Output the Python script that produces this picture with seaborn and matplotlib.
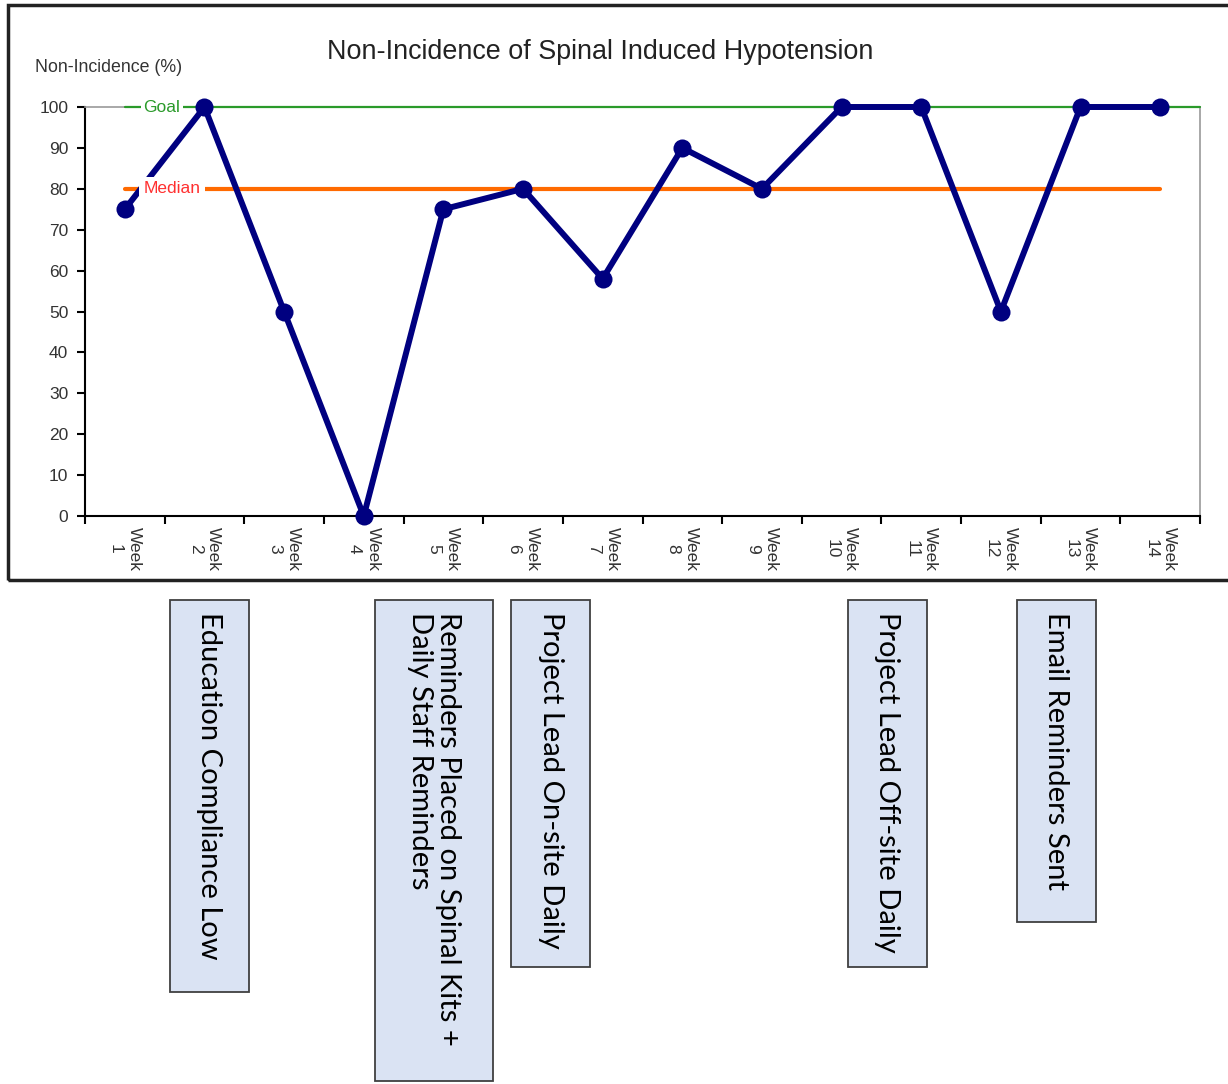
import seaborn as sns
import pandas as pd
import matplotlib.pyplot as plt
import matplotlib.patches as patches
import numpy as np

weeks = list(range(1, 15))
week_labels = [f"Week\n{w}" for w in weeks]
non_incidence = [75, 100, 50, 0, 75, 80, 58, 90, 80, 100, 100, 50, 100, 100]
goal = 100
median = 80

notes = [
    "Education Compliance Low",
    "Reminders Placed on Spinal Kits +\nDaily Staff Reminders",
    "Project Lead On-site Daily",
    "Project Lead Off-site Daily",
    "Email Reminders Sent",
]
# box extents in pixels: left, right, bottom
note_boxes = [(170, 249, 992), (375, 493, 1081), (511, 590, 967),
              (848, 927, 967), (1017, 1096, 922)]

sns.set_theme(style="white")
plt.rcParams['font.family'] = ['Liberation Sans', 'DejaVu Sans']

W, H = 1228, 1084
fig = plt.figure(figsize=(W / 100, H / 100), dpi=100)
ax = fig.add_axes([85 / W, 1 - 516 / H, (1200 - 85) / W, (516 - 107) / H])

df = pd.DataFrame({"week": weeks, "value": non_incidence})

# goal and median reference lines
ax.plot([1, 14.5], [goal, goal], color="#2a9a2a", lw=1.6, zorder=2.6, clip_on=False)
ax.plot([1, 14], [median, median], color="#ff6a00", lw=3, zorder=2)

sns.lineplot(data=df, x="week", y="value", ax=ax, color="#000080", lw=4.3,
             marker="o", markersize=13, markeredgewidth=0, zorder=3, clip_on=False)

ax.text(1.235, goal, "Goal", color="#2a9a2a", fontsize=12.5, va="center", ha="left",
        zorder=4, bbox=dict(facecolor="white", edgecolor="none", pad=2))
ax.text(1.235, median, "Median", color="#ff3030", fontsize=12.5, va="center", ha="left",
        zorder=4, bbox=dict(facecolor="white", edgecolor="none", pad=3))

ax.set_xlim(0.5, 14.5)
ax.set_ylim(0, 100)
ax.set_yticks(np.arange(0, 101, 10))
ax.set_xticks(np.arange(0.5, 15, 1))
ax.set_xticklabels([])
ax.set_xticks(weeks, minor=True)
ax.set_xticklabels(week_labels, minor=True, rotation=270, fontsize=12.5,
                   color="#333333", ha="center", va="top", linespacing=1.3)
ax.tick_params(axis="x", which="major", direction="out", length=6, width=1.5,
               color="black", bottom=True)
ax.tick_params(axis="x", which="minor", length=0, pad=8)
ax.tick_params(axis="y", direction="out", length=6, width=1.5, color="black",
               left=True, labelsize=12.5, labelcolor="#333333", pad=6)
ax.set_xlabel("")
ax.set_ylabel("")
for s in ["left", "bottom"]:
    ax.spines[s].set_color("black")
    ax.spines[s].set_linewidth(1.5)
for s in ["top", "right"]:
    ax.spines[s].set_color("#999999")
    ax.spines[s].set_linewidth(1.2)

fig.text(600 / W, 1 - 52 / H, "Non-Incidence of Spinal Induced Hypotension",
         ha="center", va="center", fontsize=19.4, color="#222222")
fig.text(35 / W, 1 - 68 / H, "Non-Incidence (%)", ha="left", va="center",
         fontsize=12.8, color="#333333")

# outer frame around the chart
fig.patches.append(patches.Rectangle((8 / W, 1 - 580 / H), 1.2, (580 - 5) / H,
                                     transform=fig.transFigure, fill=False,
                                     edgecolor="#222222", lw=2.5))

# intervention note boxes
for text, (x0, x1, yb) in zip(notes, note_boxes):
    fig.patches.append(patches.Rectangle((x0 / W, 1 - yb / H), (x1 - x0) / W,
                                         (yb - 600) / H, transform=fig.transFigure,
                                         facecolor="#dae3f3", edgecolor="#404040", lw=1.3))
    fig.text((x0 + x1) / 2 / W, 1 - 612 / H, text, rotation=270,
             rotation_mode="anchor", ha="left", va="center", fontsize=21,
             family=["Lato", "DejaVu Sans"], color="black", linespacing=1.05)

plt.savefig("out.png", dpi=100)
